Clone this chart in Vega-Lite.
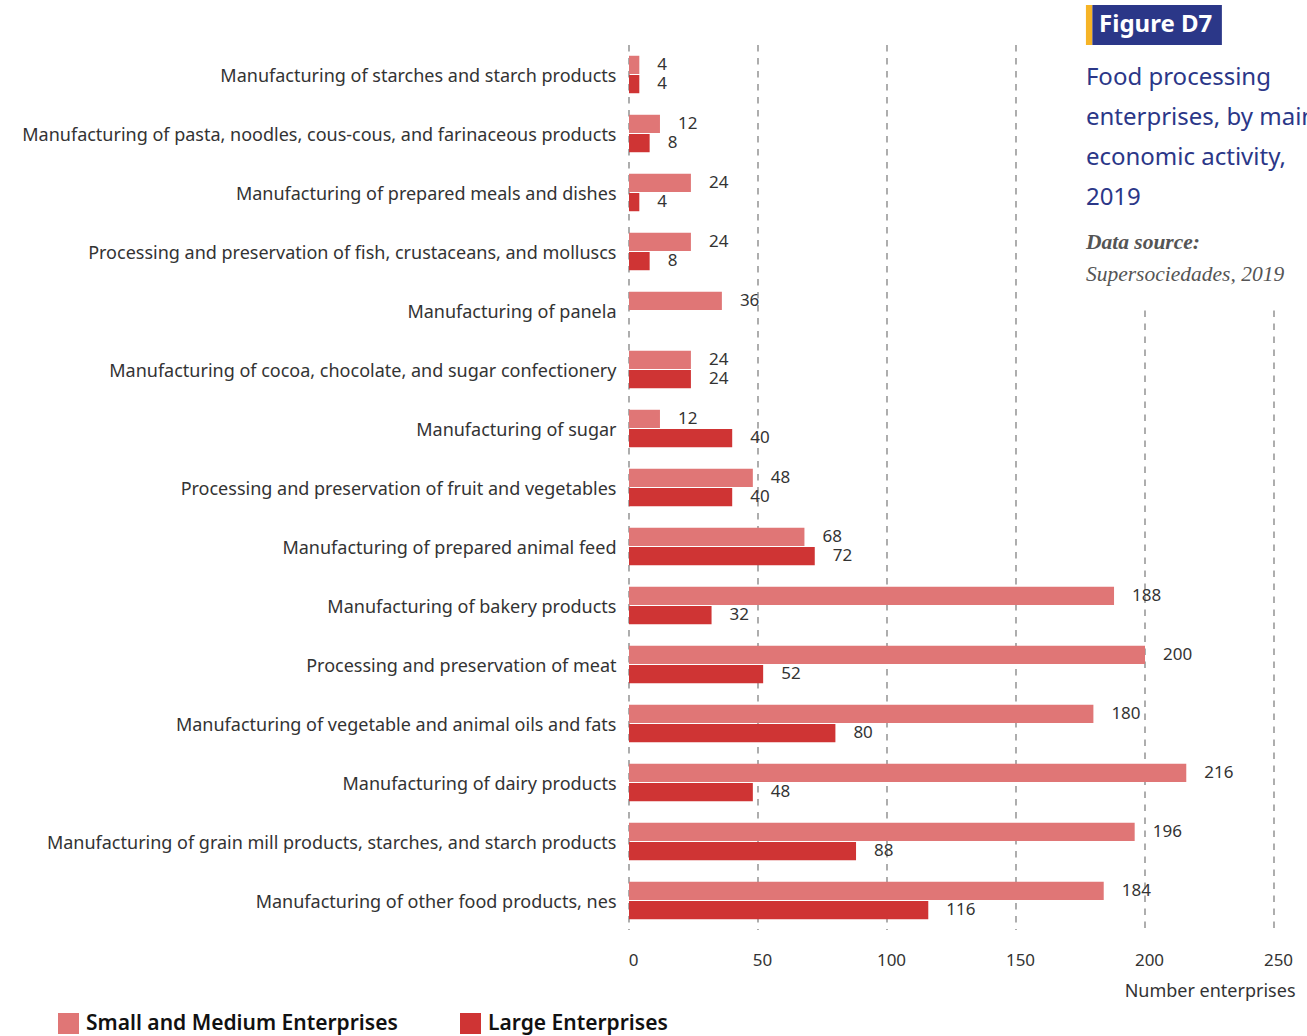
{
  "$schema": "https://vega.github.io/schema/vega-lite/v6.json",
  "width": 645,
  "height": 885,
  "autosize": {"type": "none"},
  "padding": {"left": 629, "top": 45, "right": 33, "bottom": 106},
  "background": "white",
  "config": {"font": "Noto Sans", "view": {"stroke": null}},
  "datasets": {
    "firms": [
      {"a": "Manufacturing of starches and starch products", "t": "Small and Medium Enterprises", "n": 4},
      {"a": "Manufacturing of starches and starch products", "t": "Large Enterprises", "n": 4},
      {"a": "Manufacturing of pasta, noodles, cous-cous, and farinaceous products", "t": "Small and Medium Enterprises", "n": 12},
      {"a": "Manufacturing of pasta, noodles, cous-cous, and farinaceous products", "t": "Large Enterprises", "n": 8},
      {"a": "Manufacturing of prepared meals and dishes", "t": "Small and Medium Enterprises", "n": 24},
      {"a": "Manufacturing of prepared meals and dishes", "t": "Large Enterprises", "n": 4},
      {"a": "Processing and preservation of fish, crustaceans, and molluscs", "t": "Small and Medium Enterprises", "n": 24},
      {"a": "Processing and preservation of fish, crustaceans, and molluscs", "t": "Large Enterprises", "n": 8},
      {"a": "Manufacturing of panela", "t": "Small and Medium Enterprises", "n": 36},
      {"a": "Manufacturing of cocoa, chocolate, and sugar confectionery", "t": "Small and Medium Enterprises", "n": 24},
      {"a": "Manufacturing of cocoa, chocolate, and sugar confectionery", "t": "Large Enterprises", "n": 24},
      {"a": "Manufacturing of sugar", "t": "Small and Medium Enterprises", "n": 12},
      {"a": "Manufacturing of sugar", "t": "Large Enterprises", "n": 40},
      {"a": "Processing and preservation of fruit and vegetables", "t": "Small and Medium Enterprises", "n": 48},
      {"a": "Processing and preservation of fruit and vegetables", "t": "Large Enterprises", "n": 40},
      {"a": "Manufacturing of prepared animal feed", "t": "Small and Medium Enterprises", "n": 68},
      {"a": "Manufacturing of prepared animal feed", "t": "Large Enterprises", "n": 72},
      {"a": "Manufacturing of bakery products", "t": "Small and Medium Enterprises", "n": 188},
      {"a": "Manufacturing of bakery products", "t": "Large Enterprises", "n": 32},
      {"a": "Processing and preservation of meat", "t": "Small and Medium Enterprises", "n": 200},
      {"a": "Processing and preservation of meat", "t": "Large Enterprises", "n": 52},
      {"a": "Manufacturing of vegetable and animal oils and fats", "t": "Small and Medium Enterprises", "n": 180},
      {"a": "Manufacturing of vegetable and animal oils and fats", "t": "Large Enterprises", "n": 80},
      {"a": "Manufacturing of dairy products", "t": "Small and Medium Enterprises", "n": 216},
      {"a": "Manufacturing of dairy products", "t": "Large Enterprises", "n": 48},
      {"a": "Manufacturing of grain mill products, starches, and starch products", "t": "Small and Medium Enterprises", "n": 196},
      {"a": "Manufacturing of grain mill products, starches, and starch products", "t": "Large Enterprises", "n": 88},
      {"a": "Manufacturing of other food products, nes", "t": "Small and Medium Enterprises", "n": 184},
      {"a": "Manufacturing of other food products, nes", "t": "Large Enterprises", "n": 116}
    ],
    "grid": [
      {"g": 0, "y0": 0, "y1": 15},
      {"g": 50, "y0": 0, "y1": 15},
      {"g": 100, "y0": 0, "y1": 15},
      {"g": 150, "y0": 0, "y1": 15},
      {"g": 200, "y0": 4.5, "y1": 15},
      {"g": 250, "y0": 4.5, "y1": 15}
    ]
  },
  "layer": [
    {
      "layer": [
        {
          "data": {"name": "grid"},
          "mark": {"type": "rule", "strokeDash": [6.5, 6.5], "color": "#8c8c8c", "strokeWidth": 1.4},
          "encoding": {
            "x": {
              "field": "g", "type": "quantitative",
              "axis": {"values": [0, 50, 100, 150, 200, 250], "grid": false, "domain": false, "ticks": false, "labelFlush": false, "labelOffset": 4, "labelPadding": 22, "labelFontSize": 17, "labelColor": "#333333", "title": "Number enterprises", "titleFontWeight": "normal", "titleFontSize": 18, "titleColor": "#333333", "titleAnchor": "end", "titleAlign": "right", "titleX": 666, "titleY": 52, "titleBaseline": "top"}
            },
            "y": {"field": "y0", "type": "quantitative", "scale": {"domain": [0, 15], "reverse": true, "nice": false, "zero": false}, "axis": null},
            "y2": {"field": "y1"}
          }
        },
        {
          "data": {"values": [{}]},
          "mark": {"type": "rect", "color": "#F6B426"},
          "encoding": {
            "x": {"datum": 177.1, "type": "quantitative"},
            "x2": {"datum": 179.6},
            "y": {"datum": -0.678, "type": "quantitative", "axis": null},
            "y2": {"datum": 0}
          }
        },
        {
          "data": {"values": [{}]},
          "mark": {"type": "rect", "color": "#2B3788"},
          "encoding": {
            "x": {"datum": 179.6, "type": "quantitative"},
            "x2": {"datum": 229.8},
            "y": {"datum": -0.678, "type": "quantitative", "axis": null},
            "y2": {"datum": 0}
          }
        },
        {
          "data": {"values": [{}]},
          "mark": {"type": "text", "text": "Figure D7", "font": "Noto Sans", "fontWeight": "bold", "fontSize": 24, "fill": "white", "align": "left", "baseline": "middle"},
          "encoding": {
            "x": {"datum": 182.2, "type": "quantitative"},
            "y": {"datum": -0.339, "type": "quantitative", "axis": null}
          }
        },
        {
          "data": {"values": [{}]},
          "mark": {"type": "text", "text": ["Food processing", "enterprises, by main", "economic activity,", "2019"], "lineHeight": 40, "fontSize": 24, "fill": "#2B3788", "align": "left", "baseline": "middle"},
          "encoding": {
            "x": {"datum": 177.1, "type": "quantitative"},
            "y": {"datum": 0.559, "type": "quantitative", "axis": null}
          }
        },
        {
          "data": {"values": [{}]},
          "mark": {"type": "text", "text": "Data source:", "font": "Liberation Serif", "fontStyle": "italic", "fontWeight": "bold", "fontSize": 21.5, "fill": "#555555", "align": "left", "baseline": "middle"},
          "encoding": {
            "x": {"datum": 177.1, "type": "quantitative"},
            "y": {"datum": 3.356, "type": "quantitative", "axis": null}
          }
        },
        {
          "data": {"values": [{}]},
          "mark": {"type": "text", "text": "Supersociedades, 2019", "font": "Liberation Serif", "fontStyle": "italic", "fontSize": 21.5, "fill": "#555555", "align": "left", "baseline": "middle"},
          "encoding": {
            "x": {"datum": 177.1, "type": "quantitative"},
            "y": {"datum": 3.898, "type": "quantitative", "axis": null}
          }
        }
      ]
    },
    {
      "data": {"name": "firms"},
      "encoding": {
        "y": {
          "field": "a", "type": "nominal", "sort": null,
          "scale": {"paddingInner": 0, "paddingOuter": 0},
          "axis": {"title": null, "domain": false, "ticks": false, "grid": false, "labelFontSize": 18, "labelColor": "#333333", "labelPadding": 13, "labelOffset": 2, "labelLimit": 700}
        },
        "yOffset": {
          "field": "t", "type": "nominal",
          "sort": ["Small and Medium Enterprises", "Large Enterprises"],
          "scale": {"paddingInner": 0.05, "paddingOuter": 0.56}
        },
        "x": {
          "field": "n", "type": "quantitative",
          "scale": {"domain": [0, 250], "nice": false},
          "axis": {"values": [0, 50, 100, 150, 200, 250], "grid": false, "domain": false, "ticks": false, "labelFlush": false, "labelOffset": 4, "labelPadding": 22, "labelFontSize": 17, "labelColor": "#333333", "title": "Number enterprises", "titleFontWeight": "normal", "titleFontSize": 18, "titleColor": "#333333", "titleAnchor": "end", "titleAlign": "right", "titleX": 666, "titleY": 52, "titleBaseline": "top"}
        }
      },
      "layer": [
        {
          "mark": {"type": "bar"},
          "encoding": {
            "color": {
              "field": "t", "type": "nominal",
              "scale": {"domain": ["Small and Medium Enterprises", "Large Enterprises"], "range": ["#E07676", "#CF3434"]},
              "legend": {"orient": "none", "legendX": -571, "legendY": 968, "direction": "horizontal", "title": null, "symbolType": "square", "symbolSize": 441, "symbolStrokeWidth": 0, "symbolOpacity": 1, "labelFontSize": 21, "labelFontWeight": 600, "labelColor": "#111111", "columnPadding": 62, "labelOffset": 7, "labelLimit": 400}
            }
          }
        },
        {
          "mark": {"type": "text", "align": "left", "baseline": "middle", "dx": 18, "fontSize": 17, "fill": "#333333"},
          "encoding": {"text": {"field": "n", "type": "quantitative"}}
        }
      ]
    }
  ],
  "resolve": {"scale": {"y": "independent"}}
}
